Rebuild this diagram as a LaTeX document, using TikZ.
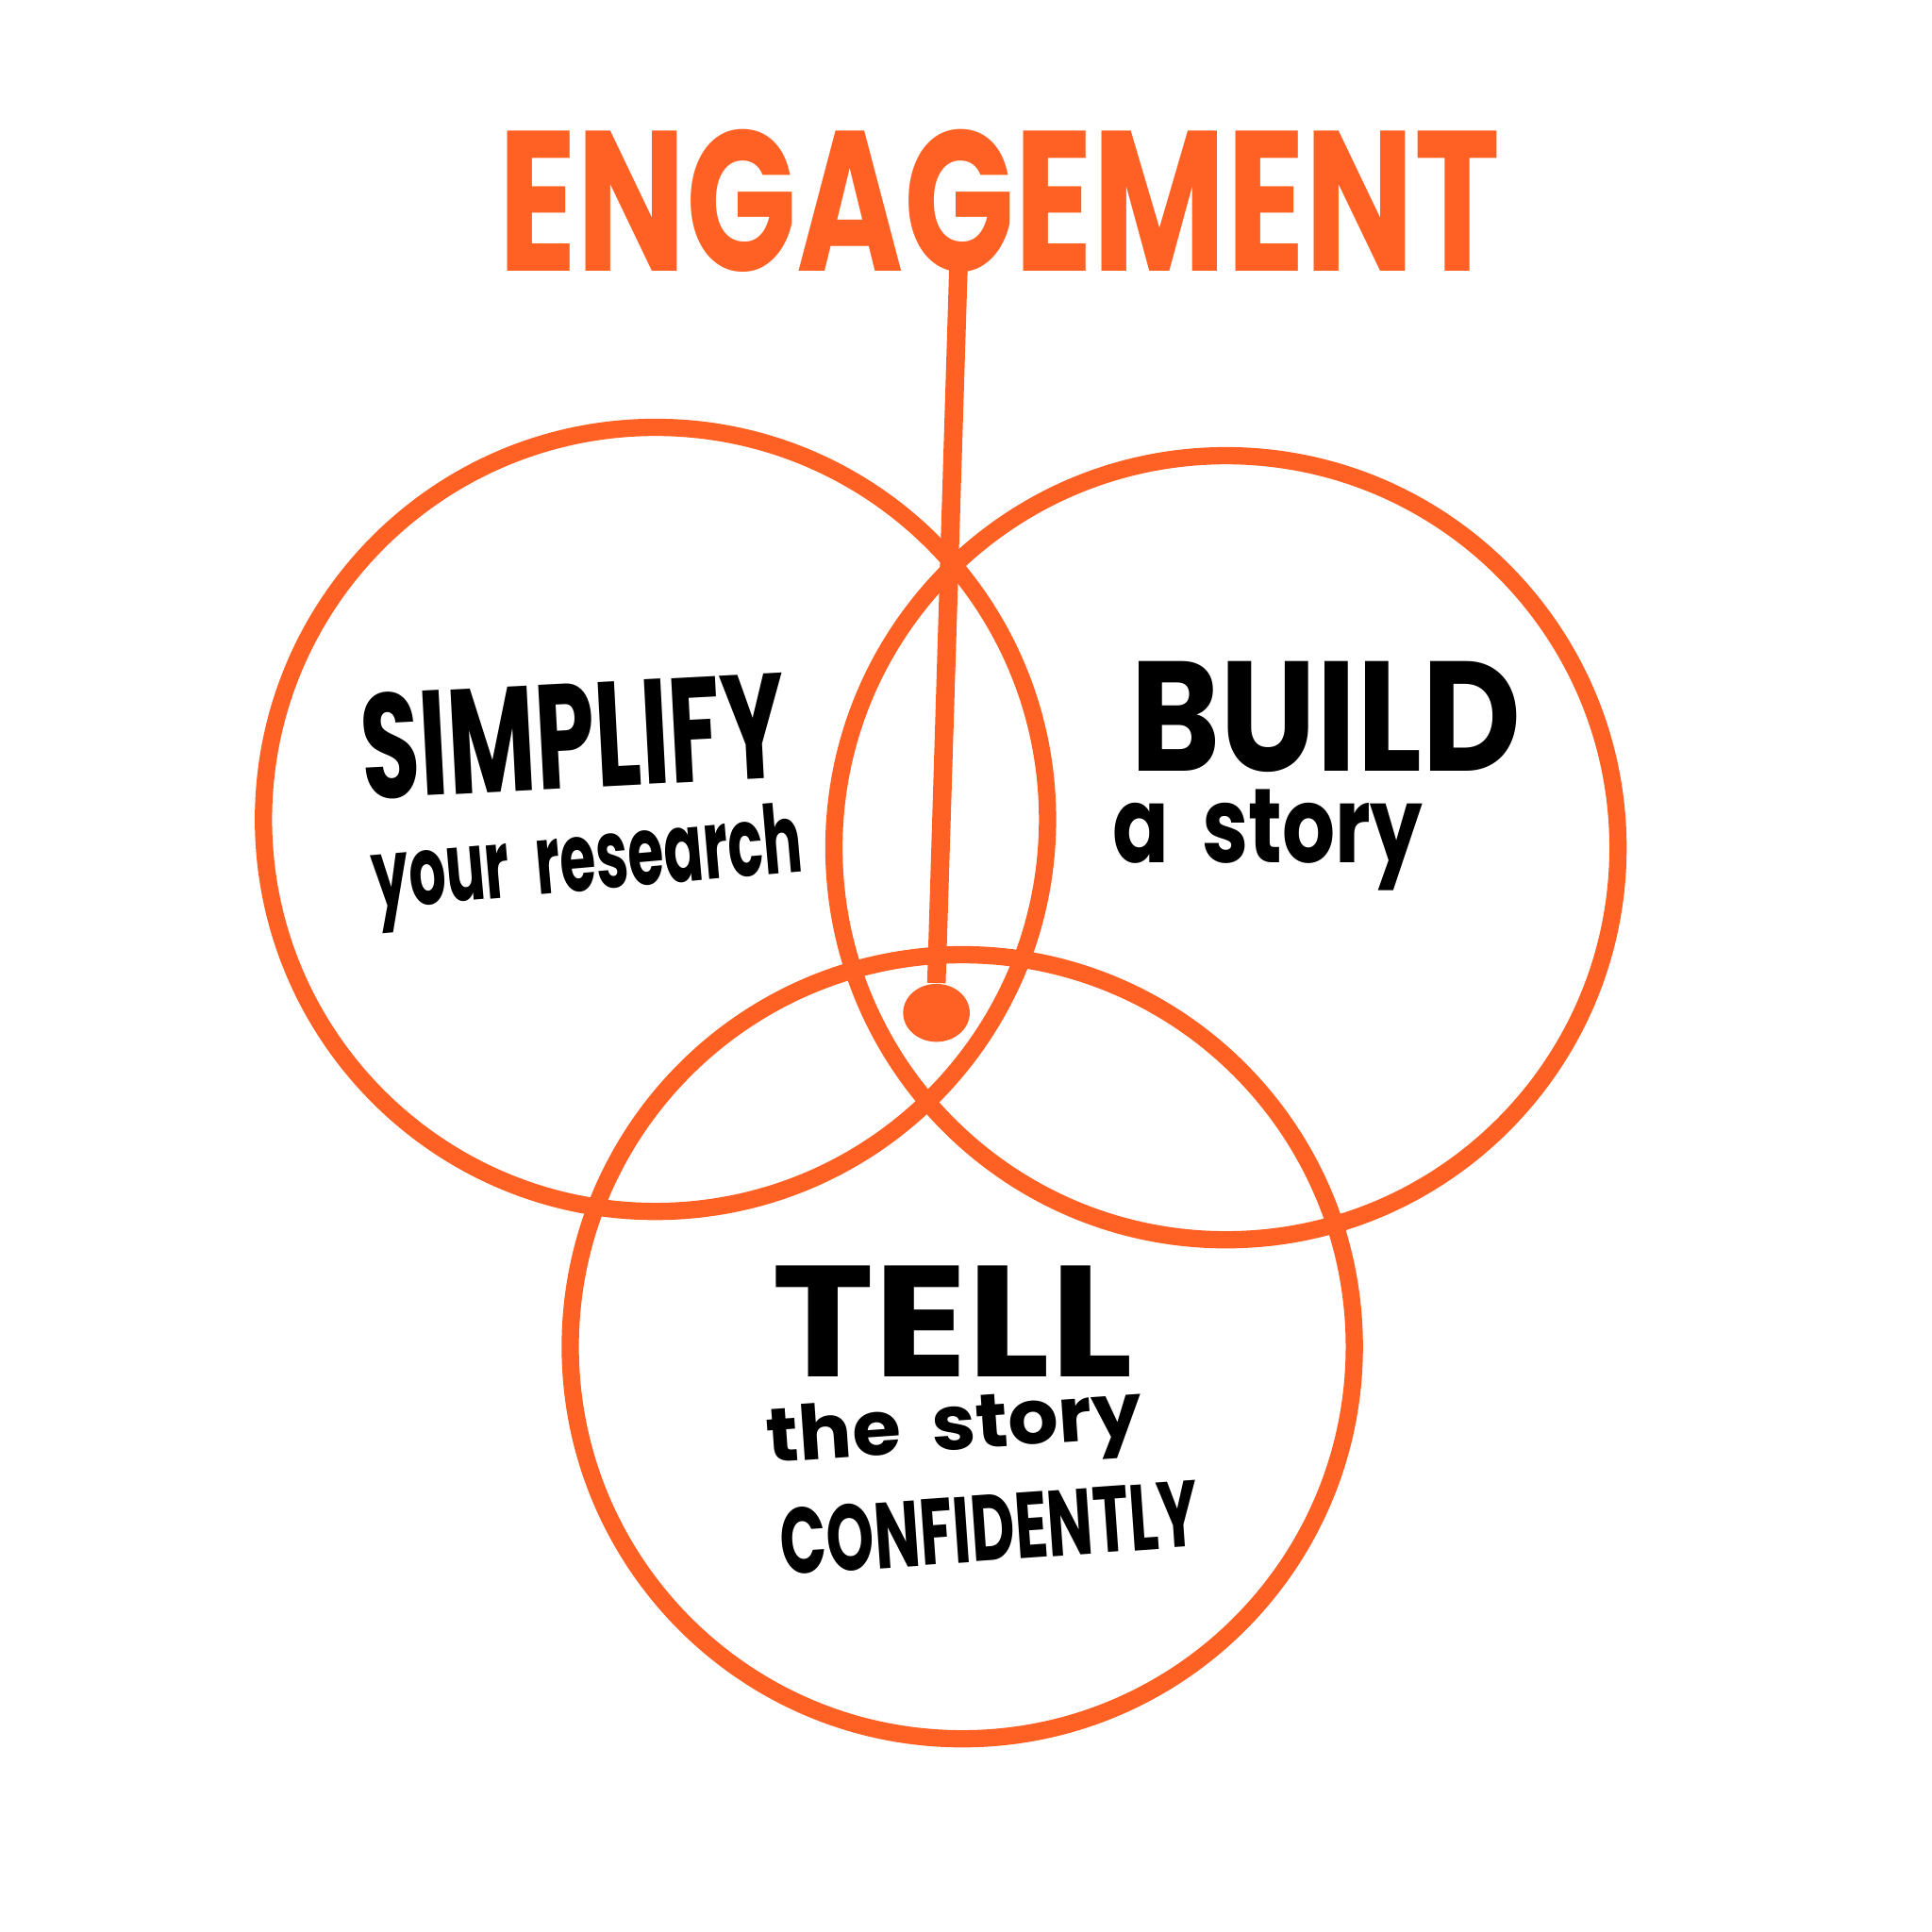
\documentclass[tikz,border=0pt]{standalone}
\usepackage{graphicx}
\usepackage{fontspec}
\newfontfamily\handfont{Poppins}
\usetikzlibrary{shapes.geometric}
\definecolor{engorange}{RGB}{255,97,36}

\begin{document}
\begin{tikzpicture}[x=0.01cm, y=-0.01cm,
    ring/.style={circle, draw=engorange, line width=0.14cm, minimum size=6.36cm, inner sep=0pt},
    word/.style={inner sep=0pt, font=\handfont\bfseries},
    hubdot/.style={ellipse, fill=engorange, minimum width=0.54cm, minimum height=0.47cm, inner sep=0pt}
]
\useasboundingbox (0,0) rectangle (1568,1568);
% the three rings
\node[ring] (simplify) at (532,665) {};
\node[ring] (build) at (995,688) {};
\node[ring] (tell) at (781,1093) {};
% title with its stem down to the middle
\node[word, text=engorange] (engagement) at (811,163) {\resizebox{8.13cm}{1.15cm}{ENGAGEMENT}};
\coordinate (stem) at (778,212);
\node[hubdot] (hub) at (760,822) {};
\draw[engorange, line width=0.15cm] (stem) -- (hub.north);
% labels in the rings
\node[word, rotate=3] (simplifyhead) at (465,597) {\resizebox{3.45cm}{0.86cm}{SIMPLIFY}};
\node[word, rotate=5] (simplifysub) at (477,704) {\resizebox*{3.5cm}{0.78cm}{your\hspace{0.45em}research}};
\node[word] (buildhead) at (1076,582) {\resizebox{3.17cm}{0.89cm}{BUILD}};
\node[word] (buildsub) at (1029,682) {\resizebox*{2.52cm}{0.82cm}{a\hspace{0.4em}story}};
\node[word] (tellhead) at (773,1072) {\resizebox{2.93cm}{0.9cm}{TELL}};
\node[word, rotate=4] (tellsub) at (775,1162) {\resizebox*{3.05cm}{0.62cm}{the\hspace{0.4em}story}};
\node[word, rotate=4] (tellend) at (803,1240) {\resizebox{3.4cm}{0.54cm}{CONFIDENTLY}};
\end{tikzpicture}
\end{document}
